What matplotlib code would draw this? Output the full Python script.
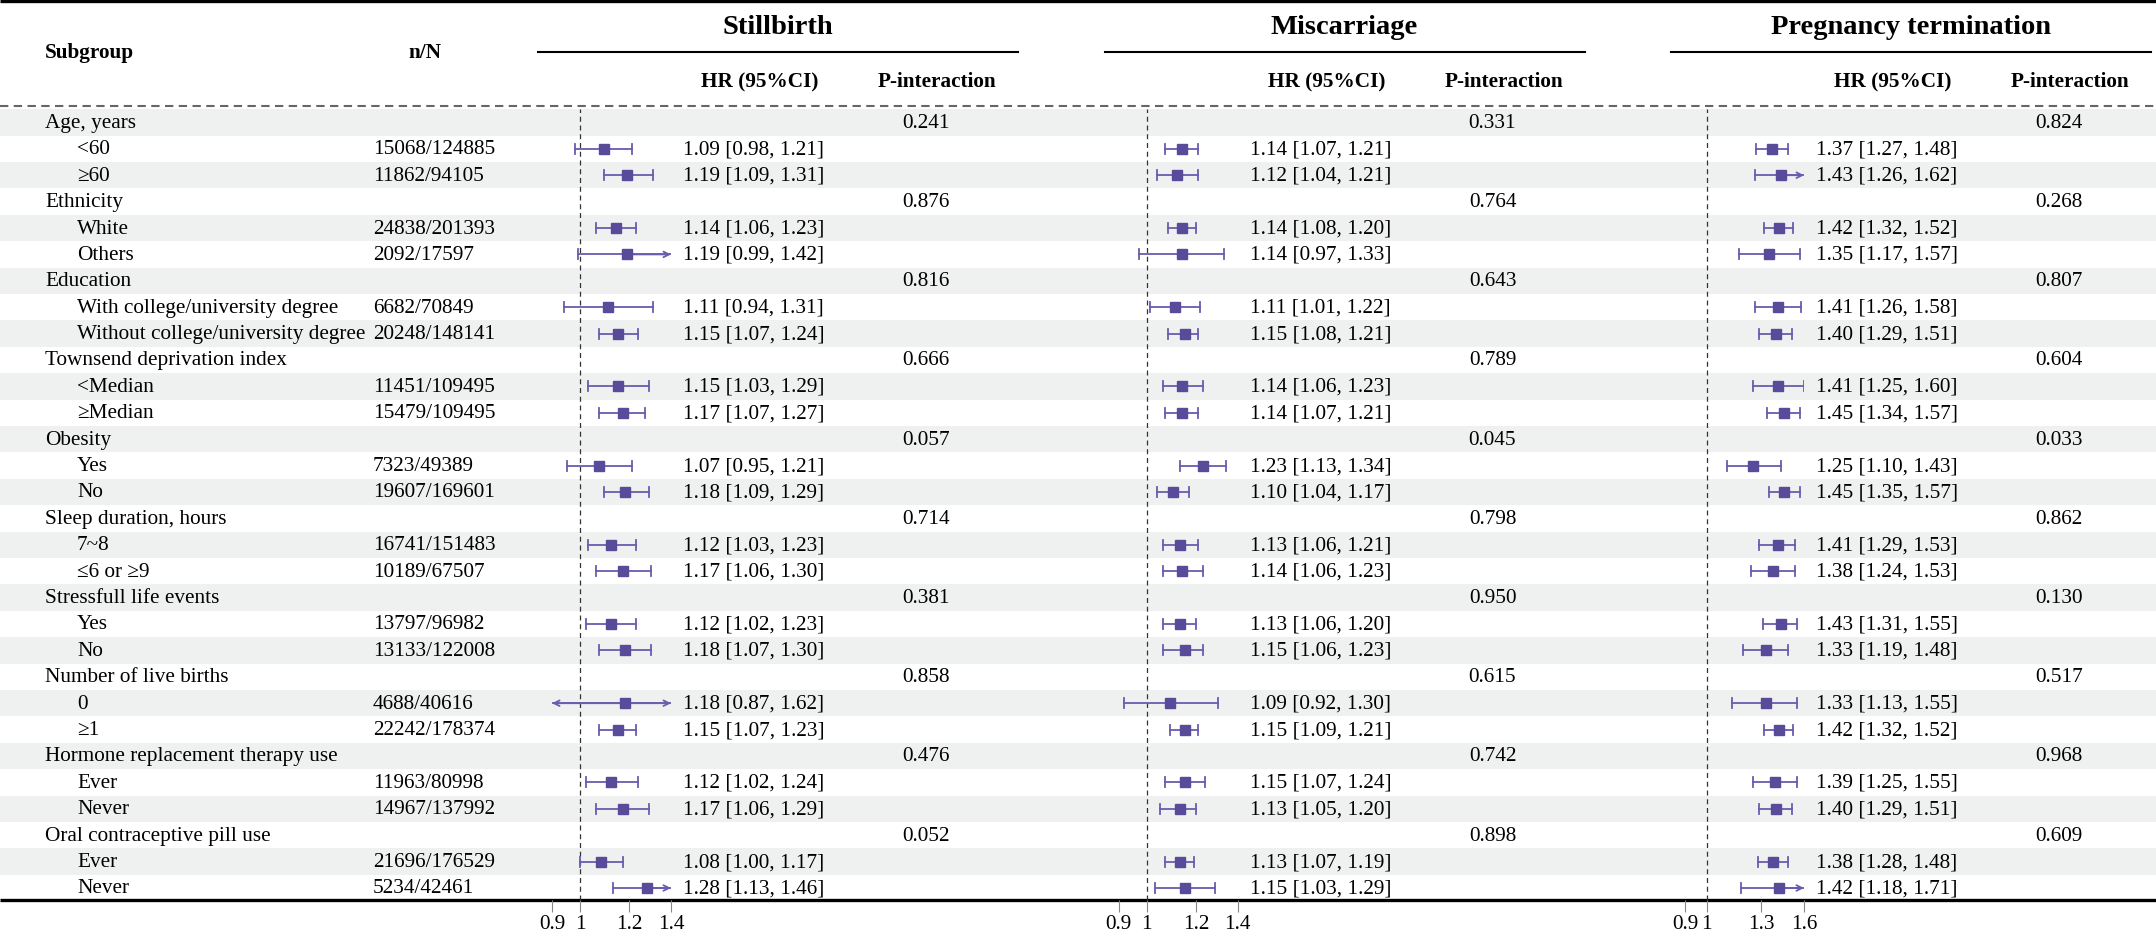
import matplotlib
matplotlib.use("Agg")
import matplotlib.pyplot as plt

plt.rcParams['font.family'] = ['Liberation Serif', 'DejaVu Serif']

# ---- data ----
groups = ["Age, years", "Ethnicity", "Education", "Townsend deprivation index",
          "Obesity", "Sleep duration, hours", "Stressfull life events",
          "Number of live births", "Hormone replacement therapy use",
          "Oral contraceptive pill use"]
subgroups = [["<60", "≥60"], ["White", "Others"],
             ["With college/university degree", "Without college/university degree"],
             ["<Median", "≥Median"], ["Yes", "No"], ["7~8", "≤6 or ≥9"],
             ["Yes", "No"], ["0", "≥1"], ["Ever", "Never"], ["Ever", "Never"]]
n_over_N = [["15068/124885", "11862/94105"], ["24838/201393", "2092/17597"],
            ["6682/70849", "20248/148141"], ["11451/109495", "15479/109495"],
            ["7323/49389", "19607/169601"], ["16741/151483", "10189/67507"],
            ["13797/96982", "13133/122008"], ["4688/40616", "22242/178374"],
            ["11963/80998", "14967/137992"], ["21696/176529", "5234/42461"]]

outcomes = ["Stillbirth", "Miscarriage", "Pregnancy termination"]

still_hr = [1.09, 1.19, 1.14, 1.19, 1.11, 1.15, 1.15, 1.17, 1.07, 1.18,
            1.12, 1.17, 1.12, 1.18, 1.18, 1.15, 1.12, 1.17, 1.08, 1.28]
still_lo = [0.98, 1.09, 1.06, 0.99, 0.94, 1.07, 1.03, 1.07, 0.95, 1.09,
            1.03, 1.06, 1.02, 1.07, 0.87, 1.07, 1.02, 1.06, 1.00, 1.13]
still_hi = [1.21, 1.31, 1.23, 1.42, 1.31, 1.24, 1.29, 1.27, 1.21, 1.29,
            1.23, 1.30, 1.23, 1.30, 1.62, 1.23, 1.24, 1.29, 1.17, 1.46]
still_p = ["0.241", "0.876", "0.816", "0.666", "0.057", "0.714", "0.381",
           "0.858", "0.476", "0.052"]

misc_hr = [1.14, 1.12, 1.14, 1.14, 1.11, 1.15, 1.14, 1.14, 1.23, 1.10,
           1.13, 1.14, 1.13, 1.15, 1.09, 1.15, 1.15, 1.13, 1.13, 1.15]
misc_lo = [1.07, 1.04, 1.08, 0.97, 1.01, 1.08, 1.06, 1.07, 1.13, 1.04,
           1.06, 1.06, 1.06, 1.06, 0.92, 1.09, 1.07, 1.05, 1.07, 1.03]
misc_hi = [1.21, 1.21, 1.20, 1.33, 1.22, 1.21, 1.23, 1.21, 1.34, 1.17,
           1.21, 1.23, 1.20, 1.23, 1.30, 1.21, 1.24, 1.20, 1.19, 1.29]
misc_p = ["0.331", "0.764", "0.643", "0.789", "0.045", "0.798", "0.950",
          "0.615", "0.742", "0.898"]

preg_hr = [1.37, 1.43, 1.42, 1.35, 1.41, 1.40, 1.41, 1.45, 1.25, 1.45,
           1.41, 1.38, 1.43, 1.33, 1.33, 1.42, 1.39, 1.40, 1.38, 1.42]
preg_lo = [1.27, 1.26, 1.32, 1.17, 1.26, 1.29, 1.25, 1.34, 1.10, 1.35,
           1.29, 1.24, 1.31, 1.19, 1.13, 1.32, 1.25, 1.29, 1.28, 1.18]
preg_hi = [1.48, 1.62, 1.52, 1.57, 1.58, 1.51, 1.60, 1.57, 1.43, 1.57,
           1.53, 1.53, 1.55, 1.48, 1.55, 1.52, 1.55, 1.51, 1.48, 1.71]
preg_p = ["0.824", "0.268", "0.807", "0.604", "0.033", "0.862", "0.130",
          "0.517", "0.968", "0.609"]

panels = [(still_hr, still_lo, still_hi, still_p, (0.9, 1.4), [0.9, 1, 1.2, 1.4]),
          (misc_hr, misc_lo, misc_hi, misc_p, (0.9, 1.4), [0.9, 1, 1.2, 1.4]),
          (preg_hr, preg_lo, preg_hi, preg_p, (0.9, 1.6), [0.9, 1, 1.3, 1.6])]

# ---- layout (pixels) ----
W, H = 2156, 937
ROW0, DY = 123.4, 26.4
NROWS = 3 * len(groups)
STEP = 566.5
FS = 15.3
BAND = "#eef1f0"
LINE_C = "#6a5cae"
BOX_C = "#5a4a9a"

fig = plt.figure(figsize=(W / 100, H / 100), dpi=100)
ax0 = fig.add_axes([0, 0, 1, 1])
ax0.set_xlim(0, W)
ax0.set_ylim(H, 0)
ax0.axis("off")


def row_y(i):
    return ROW0 + DY * i


# zebra bands
for i in range(0, NROWS, 2):
    ax0.axhspan(row_y(i) - DY / 2, row_y(i) + DY / 2, color=BAND, lw=0, zorder=0)

# rules
ax0.plot([0, W], [2, 2], color="black", lw=2.4, solid_capstyle="butt")
ax0.plot([0, W], [107, 107], color="#666666", lw=1.5, ls=(0, (4, 2.6)))
ax0.plot([0, W], [901, 901], color="black", lw=2.4, solid_capstyle="butt")

# header texts
ax0.text(45, 53, "Subgroup", fontsize=FS, fontweight="bold", va="center", ha="left")
ax0.text(425, 53, "n/N", fontsize=FS, fontweight="bold", va="center", ha="center")
for k, name in enumerate(outcomes):
    x_off = STEP * k
    ax0.text(778 + x_off, 27, name, fontsize=20.5, fontweight="bold",
             va="center", ha="center")
    ax0.plot([538 + x_off, 1018 + x_off], [53, 53], color="black", lw=1.5)
    ax0.text(760 + x_off, 82, "HR (95%CI)", fontsize=FS, fontweight="bold",
             va="center", ha="center")
    ax0.text(937 + x_off, 82, "P-interaction", fontsize=FS, fontweight="bold",
             va="center", ha="center")

# left columns
for g, name in enumerate(groups):
    r = 3 * g
    ax0.text(45, row_y(r), name, fontsize=FS, va="center", ha="left")
    for j in range(2):
        ax0.text(77, row_y(r + 1 + j), subgroups[g][j], fontsize=FS,
                 va="center", ha="left")
        ax0.text(373, row_y(r + 1 + j), n_over_N[g][j], fontsize=FS,
                 va="center", ha="left")

# forest panels
top_px = ROW0 - DY / 2
bot_px = 901
for k, (hr, lo, hi, pv, lim, ticks) in enumerate(panels):
    x_off = STEP * k
    for g in range(len(groups)):
        r = 3 * g
        ax0.text(926 + x_off, row_y(r), pv[g], fontsize=FS, va="center", ha="center")
        for j in range(2):
            idx = 2 * g + j
            ax0.text(683 + x_off, row_y(r + 1 + j),
                     f"{hr[idx]:.2f} [{lo[idx]:.2f}, {hi[idx]:.2f}]",
                     fontsize=FS, va="center", ha="left")

    ax = fig.add_axes([(552 + x_off) / W, 1 - bot_px / H, 119 / W,
                       (bot_px - top_px) / H])
    ax.patch.set_alpha(0)
    ax.set_xscale("log")
    ax.set_xlim(*lim)
    ax.set_ylim(NROWS - 0.5 + (bot_px - (ROW0 + DY * (NROWS - 0.5))) / DY, -0.5)
    ax.axvline(1, color="#333333", lw=0.9, ls=(0, (4, 3)), zorder=1)
    for g in range(len(groups)):
        for j in range(2):
            idx = 2 * g + j
            y = 3 * g + 1 + j
            x0 = max(lo[idx], lim[0])
            x1 = min(hi[idx], lim[1])
            ax.plot([x0, x1], [y, y], color=LINE_C, lw=1.3, zorder=2)
            if lo[idx] >= lim[0]:
                ax.plot([lo[idx]] * 2, [y - 0.19, y + 0.19], color=LINE_C, lw=1.3)
            else:
                ax.annotate("", xy=(lim[0], y), xytext=(hr[idx], y),
                            arrowprops=dict(arrowstyle="->", color=LINE_C, lw=1.3,
                                            shrinkA=0, shrinkB=0, mutation_scale=10))
            if hi[idx] <= lim[1]:
                ax.plot([hi[idx]] * 2, [y - 0.19, y + 0.19], color=LINE_C, lw=1.3)
            else:
                ax.annotate("", xy=(lim[1], y), xytext=(hr[idx], y),
                            arrowprops=dict(arrowstyle="->", color=LINE_C, lw=1.3,
                                            shrinkA=0, shrinkB=0, mutation_scale=10))
            ax.plot(hr[idx], y, "s", ms=7.5, color=BOX_C, zorder=3)
    for s in ax.spines.values():
        s.set_visible(False)
    ax.set_xticks(ticks)
    ax.set_xticklabels([f"{t:g}" for t in ticks])
    ax.minorticks_off()
    ax.set_yticks([])
    ax.tick_params(axis="x", direction="out", length=8.5, width=0.8,
                   color="#888888", labelsize=FS, pad=1.5)

fig.savefig("out.png", dpi=100)
